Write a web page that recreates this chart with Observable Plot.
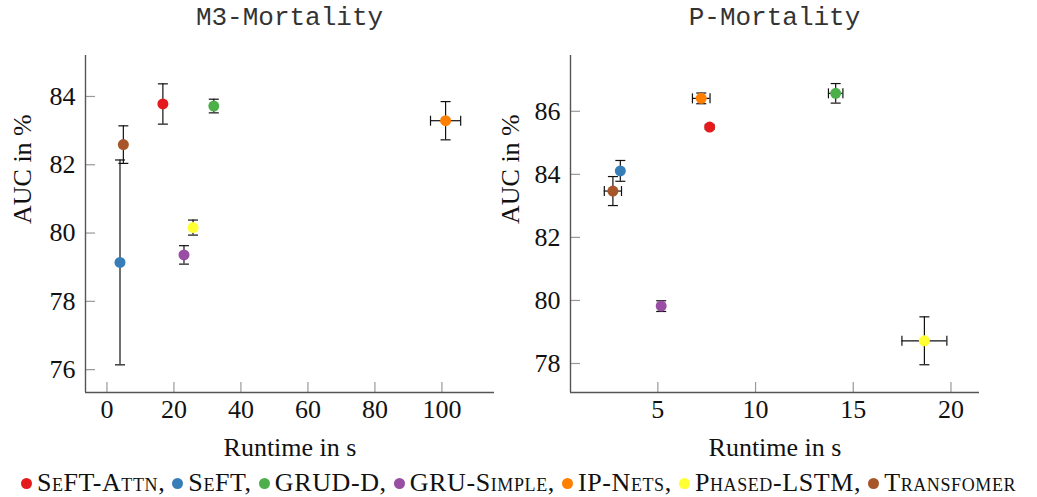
<!DOCTYPE html>
<html>
<head>
<meta charset="utf-8">
<script src="https://cdn.jsdelivr.net/npm/d3@7"></script>
<script src="https://cdn.jsdelivr.net/npm/@observablehq/plot@0.6"></script>
<style>
  html, body { margin: 0; padding: 0; background: white; }
  #root { position: relative; width: 1037px; height: 497px; overflow: hidden; }
  .panel { position: absolute; top: 0; }
  .panel svg, .panel svg text { font-family: "Liberation Serif", serif !important; }
  .title { position: absolute; top: 3px; font-family: "Liberation Mono", monospace; font-size: 26px; color: #333; transform: translateX(-50%); white-space: nowrap; }
  #legend { position: absolute; top: 468px; left: 0; width: 1037px; text-align: center; font-family: "Liberation Serif", serif; font-size: 26px; letter-spacing: 0.6px; font-variant: small-caps; white-space: nowrap; color: #111; }
  .sw { display: inline-block; width: 11px; height: 11px; border-radius: 50%; margin-right: 5px; vertical-align: 2px; }
</style>
</head>
<body>
<div id="root"></div>
<script>
// ---------- data ----------
const models = ["SeFT-Attn", "SeFT", "GRUD-D", "GRU-Simple", "IP-Nets", "Phased-LSTM", "Transfomer"];
const colors = ["#e41a1c", "#377eb8", "#4daf4a", "#984ea3", "#ff7f00", "#ffff33", "#a65628"];

const m3Runtime    = [16.7, 3.9, 31.9, 23.0, 101.1, 25.7, 4.9];
const m3RuntimeErr = [0, 0, 0, 0, 4.5, 0, 0];
const m3Auc        = [83.78, 79.14, 83.72, 79.36, 83.29, 80.16, 82.59];
const m3AucErr     = [0.59, 3.0, 0.2, 0.27, 0.56, 0.22, 0.55];

const pRuntime     = [7.65, 3.08, 14.1, 5.17, 7.22, 18.64, 2.70];
const pRuntimeErr  = [0.05, 0, 0.37, 0.05, 0.45, 1.15, 0.44];
const pAuc         = [85.50, 84.11, 86.57, 79.82, 86.41, 78.72, 83.47];
const pAucErr      = [0.07, 0.33, 0.31, 0.17, 0.17, 0.76, 0.46];

const m3XTicks = [0, 20, 40, 60, 80, 100];
const m3YTicks = [76, 78, 80, 82, 84];
const pXTicks  = [5, 10, 15, 20];
const pYTicks  = [78, 80, 82, 84, 86];

const titles = ["M3-Mortality", "P-Mortality"];
const xLabel = "Runtime in s";
const yLabel = "AUC in %";

// ---------- helpers ----------
const hcap = {draw(ctx, size) { const r = Math.sqrt(size / Math.PI); ctx.moveTo(-r, 0); ctx.lineTo(r, 0); }};
const vcap = {draw(ctx, size) { const r = Math.sqrt(size / Math.PI); ctx.moveTo(0, -r); ctx.lineTo(0, r); }};
const FONT = "Liberation Serif";

function rows(rt, rtErr, auc, aucErr) {
  return models.map((m, i) => ({model: m, color: colors[i], x: rt[i], xe: rtErr[i], y: auc[i], ye: aucErr[i]}));
}

function panel({data, xDomain, yDomain, xTicks, yTicks, left, width, marginLeft, marginRight, yLabelDx, title}) {
  const height = 460, marginTop = 55, marginBottom = 68;
  const innerW = width - marginLeft - marginRight;
  const innerH = height - marginTop - marginBottom;
  const xe = data.filter(d => d.xe > 0);
  const chart = Plot.plot({
    width, height, marginLeft, marginRight, marginTop, marginBottom,
    style: {fontFamily: "'Liberation Serif', serif", fontSize: "26px", color: "#111", background: "white", overflow: "visible"},
    x: {domain: xDomain},
    y: {domain: yDomain},
    marks: [
      // inward ticks
      Plot.tickX(xTicks, {x: d => d, insetTop: innerH - 10, stroke: "#999", strokeWidth: 1.2}),
      Plot.tickY(yTicks, {y: d => d, insetRight: innerW - 10, stroke: "#999", strokeWidth: 1.2}),
      // axis lines
      Plot.ruleX([xDomain[0]], {stroke: "#555", strokeWidth: 1.4}),
      Plot.ruleY([yDomain[0]], {stroke: "#555", strokeWidth: 1.4}),
      Plot.axisX(xTicks, {tickSize: 0, tickPadding: 7, label: null, fontSize: 26, fontFamily: FONT}),
      Plot.axisY(yTicks, {tickSize: 0, tickPadding: 10, label: null, fontSize: 26, fontFamily: FONT}),
      Plot.text([xLabel], {frameAnchor: "bottom", dy: 55, lineAnchor: "middle", fontSize: 26, fontFamily: FONT}),
      Plot.text([yLabel], {frameAnchor: "left", dx: yLabelDx, rotate: -90, lineAnchor: "middle", fontSize: 26, fontFamily: FONT}),
      // error bars
      Plot.ruleX(data, {x: "x", y1: d => d.y - d.ye, y2: d => d.y + d.ye, stroke: "#111", strokeWidth: 1.2}),
      Plot.ruleY(xe, {y: "y", x1: d => d.x - d.xe, x2: d => d.x + d.xe, stroke: "#111", strokeWidth: 1.2}),
      Plot.dot(data, {x: "x", y: d => d.y + d.ye, symbol: hcap, r: 5, fill: "none", stroke: "#111", strokeWidth: 1.2}),
      Plot.dot(data, {x: "x", y: d => d.y - d.ye, symbol: hcap, r: 5, fill: "none", stroke: "#111", strokeWidth: 1.2}),
      Plot.dot(xe, {x: d => d.x - d.xe, y: "y", symbol: vcap, r: 5, fill: "none", stroke: "#111", strokeWidth: 1.2}),
      Plot.dot(xe, {x: d => d.x + d.xe, y: "y", symbol: vcap, r: 5, fill: "none", stroke: "#111", strokeWidth: 1.2}),
      // points
      Plot.dot(data, {x: "x", y: "y", r: 5.5, fill: d => d.color, stroke: "none"})
    ]
  });
  const wrap = document.createElement("div");
  wrap.className = "panel";
  wrap.style.left = left + "px";
  wrap.appendChild(chart);
  const t = document.createElement("div");
  t.className = "title";
  t.textContent = title;
  t.style.left = (left + marginLeft + innerW / 2) + "px";
  const root = document.getElementById("root");
  root.appendChild(wrap);
  root.appendChild(t);
}

panel({
  data: rows(m3Runtime, m3RuntimeErr, m3Auc, m3AucErr),
  xDomain: [-6.4, 115.7], yDomain: [75.33, 85.2],
  xTicks: m3XTicks, yTicks: m3YTicks,
  left: 0, width: 496, marginLeft: 85, marginRight: 2, yLabelDx: -63, title: titles[0]
});
panel({
  data: rows(pRuntime, pRuntimeErr, pAuc, pAucErr),
  xDomain: [0.53, 21.46], yDomain: [77.08, 87.77],
  xTicks: pXTicks, yTicks: pYTicks,
  left: 496, width: 541, marginLeft: 74, marginRight: 58, yLabelDx: -60, title: titles[1]
});

// legend
const legend = document.createElement("div");
legend.id = "legend";
models.forEach((m, i) => {
  const sw = document.createElement("span");
  sw.className = "sw";
  sw.style.background = colors[i];
  legend.appendChild(sw);
  legend.appendChild(document.createTextNode(m + (i < models.length - 1 ? ", " : "")));
});
document.getElementById("root").appendChild(legend);
</script>
</body>
</html>
